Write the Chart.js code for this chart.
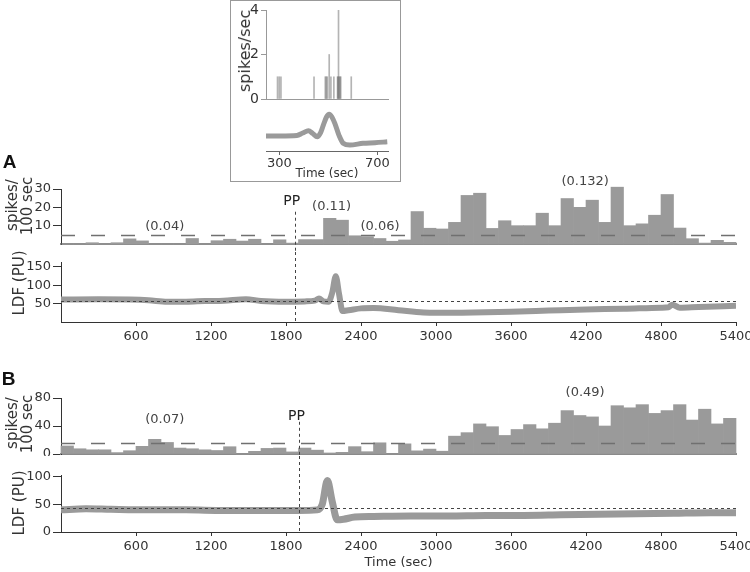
<!DOCTYPE html>
<html>
<head>
<meta charset="utf-8">
<script src="https://cdn.jsdelivr.net/npm/chart.js@4.4.1/dist/chart.umd.min.js"></script>
<style>
  body { margin: 0; background: #fff; }
  #wrap { position: relative; width: 750px; height: 572px; overflow: hidden;
          font-family: "DejaVu Sans", sans-serif; color: #333; }
  canvas { position: absolute; }
  .lbl { position: absolute; white-space: nowrap; transform: translate(-50%, -50%); line-height: 1; }
  .rot { transform: translate(-50%, -50%) rotate(-90deg); font-size: 15px; }
  .panel { font-family: "Liberation Sans", Arial, sans-serif; font-weight: bold; font-size: 19px; color: #111; }
  #insetBox { position: absolute; left: 230px; top: 0; width: 171px; height: 182px;
              box-sizing: border-box; border: 1px solid #999; }
</style>
</head>
<body>
<div id="wrap">
  <div id="insetBox"></div>
  <canvas id="insetSpikes" width="168" height="104" style="left:231px;top:1px"></canvas>
  <canvas id="insetLdf" width="168" height="77" style="left:231px;top:105px"></canvas>
  <canvas id="histA" width="750" height="82" style="left:0;top:170px"></canvas>
  <canvas id="ldfA" width="750" height="103" style="left:0;top:252px"></canvas>
  <canvas id="histB" width="750" height="73" style="left:0;top:383px"></canvas>
  <canvas id="ldfB" width="750" height="116" style="left:0;top:456px"></canvas>

  <div class="lbl rot" style="left:245px;top:51px;font-size:16px">spikes/sec</div>
  <div class="lbl panel" style="left:9.5px;top:161px">A</div>
  <div class="lbl panel" style="left:8.5px;top:378px">B</div>
  <div class="lbl rot" style="left:12px;top:205px">spikes/</div>
  <div class="lbl rot" style="left:27px;top:206px">100 sec</div>
  <div class="lbl rot" style="left:19px;top:283px">LDF (PU)</div>
  <div class="lbl rot" style="left:12px;top:423px">spikes/</div>
  <div class="lbl rot" style="left:27px;top:424px">100 sec</div>
  <div class="lbl rot" style="left:19px;top:503px">LDF (PU)</div>
</div>
<script>
// 100-sec bins (centres, sec)
const binCenters = [50,150,250,350,450,550,650,750,850,950,1050,1150,1250,1350,1450,1550,1650,1750,
  1850,1950,2050,2150,2250,2350,2450,2550,2650,2750,2850,2950,3050,3150,3250,3350,3450,3550,3650,
  3750,3850,3950,4050,4150,4250,4350,4450,4550,4650,4750,4850,4950,5050,5150,5250,5350];

// spikes / 100 sec
const spikesA = [0,0,0.7,0,0.7,2.8,1.7,0,0,0, 3,0,1.8,2.6,1.6,2.6,0,2.3,0.5,2.4,
  2.4,14,13,4.5,4,3,1.5,2.2,17.7,8.6, 8.2,11.8,26.5,27.7,8.5,12.7,10,10,16.8,10,
  24.8,20,23.9,11.8,31,10,11,15.7,27,8.7, 2.9,0.5,2,0.9];
const spikesB = [11.5,7.5,6,6,2,4.7,11,21,16.5,8.5, 7.5,6,5,10.4,0,3.8,8,8.5,3,8.5,
  5.5,1.5,2.4,10.5,3.3,16,0,14.5,4.5,7, 4,25.5,30.5,43,39,26.5,35,42,36,44,
  62,55,53,40,69,66,70.5,58,62,70.5, 48.5,64,43,51];

// LDF traces (sec, PU)
const ldfTimeA = [0,300,550,700,850,1000,1150,1300,1480,1600,1800,1950,2030,2064,2100,2140,2170,2198,2225,2252,
  2300,2400,2500,2700,2900,3000,3300,3600,3900,4200,4500,4800,4860,4890,4950,5100,5400];
const ldfA = [61,62,61,59,55,55,57,58,62,57,55,56,58,64,56,55,80,124,75,30,
  32,37,38,32,26,25,26,28,31,34,36,39,40,47,39,41,44];
const ldfTimeB = [0,200,400,700,1000,1300,1600,1900,2050,2090,2131,2170,2210,2260,2350,2500,2800,3100,
  3400,3700,4000,4300,4600,4900,5200,5400];
const ldfB = [40,42,41,40,40,39,39,39,40,50,93,55,22,23,27,28,29,29,30,30,31,32,33,34,35,35];

// inset: single-cell spikes/sec and LDF trace
const insetSpikeTime = [292,299,306,441,487,491,495,503,510,522,537,539,541,544,547,550,593];
const insetSpikeCount = [1,1,1,1,1,1,1,2,1,1,1,1,4,1,1,1,1];
const insetLdfTime = [245,303,371,395,418,436,454,468,479,492,503,514,526,543,560,587,641,690,740];
const insetLdf = [16.3,16.3,16.8,19.5,22,19,15.5,20,28,37,40,37,30,17,8.4,6.5,8.4,9,10];

const timeTicks = [600,1200,1800,2400,3000,3600,4200,4800,5400];
const insetTimeTicks = [300,700];
const ppTimeA = 1870, ppTimeB = 1900;
const thresholdA = 5, thresholdB = 16;
const baselineA = 57, baselineB = 43;

Chart.defaults.font.family = "'DejaVu Sans', sans-serif";
Chart.defaults.font.size = 13;
Chart.defaults.color = '#333';

const notesPlugin = {
  id: 'notes',
  afterDatasetsDraw(chart, args, o) {
    const { ctx, chartArea: a } = chart;
    const x = chart.scales.x, y = chart.scales.y;
    ctx.save();
    (o.hlines || []).forEach(h => {
      const py = Math.round(y.getPixelForValue(h.value)) + 0.5;
      ctx.beginPath();
      ctx.setLineDash(h.dash);
      ctx.lineWidth = h.width;
      ctx.strokeStyle = h.color;
      ctx.moveTo(a.left, py);
      ctx.lineTo(a.right, py);
      ctx.stroke();
    });
    (o.vlines || []).forEach(v => {
      const px = Math.round(x.getPixelForValue(v.value)) + 0.5;
      const top = v.from === undefined ? 0 : y.getPixelForValue(v.from);
      const bottom = v.toEdge ? chart.height : a.bottom;
      ctx.beginPath();
      ctx.setLineDash([3, 3]);
      ctx.lineWidth = 1;
      ctx.strokeStyle = '#444';
      ctx.moveTo(px, top);
      ctx.lineTo(px, bottom);
      ctx.stroke();
    });
    ctx.setLineDash([]);
    ctx.textAlign = 'center';
    ctx.textBaseline = 'middle';
    (o.texts || []).forEach(t => {
      ctx.font = (t.size || 13) + 'px "DejaVu Sans"';
      ctx.fillStyle = t.color || '#444';
      ctx.fillText(t.text, x.getPixelForValue(t.x) + (t.dx || 0), y.getPixelForValue(t.y));
    });
    ctx.restore();
  }
};
Chart.register(notesPlugin);

function fixedTicks(list) {
  return s => { s.ticks = list.map(v => ({ value: v })); };
}
function xFit(h) {
  return s => { s.height = h; s.paddingLeft = 0; s.paddingRight = 0; };
}
function yFit(w) {
  return s => { s.width = w; s.paddingTop = 0; s.paddingBottom = 0; };
}
const plain = v => String(v);
const base = {
  responsive: false,
  animation: false,
  devicePixelRatio: 1,
  plugins: { legend: { display: false }, tooltip: { enabled: false } }
};

function histChart(id, values, yMax, yTicks, padTop, xH, notes) {
  return new Chart(document.getElementById(id), {
    type: 'bar',
    data: {
      datasets: [{
        data: binCenters.map((t, i) => ({ x: t, y: values[i] })),
        backgroundColor: '#9a9a9a',
        borderWidth: 0,
        barPercentage: 1,
        categoryPercentage: 1,
        clip: false
      }]
    },
    options: Object.assign({}, base, {
      layout: { padding: { top: padTop, right: 14, left: 0, bottom: 0 } },
      plugins: Object.assign({}, base.plugins, { notes: notes }),
      scales: {
        x: {
          type: 'linear', min: 0, max: 5400, offset: false,
          grid: { display: false },
          border: { color: '#8a8a8a', width: 2 },
          ticks: { display: false },
          afterFit: xFit(xH)
        },
        y: {
          min: 0, max: yMax,
          afterBuildTicks: fixedTicks(yTicks),
          grid: { drawOnChartArea: false, tickLength: 8, color: '#333' },
          border: { color: '#333' },
          ticks: { padding: 2, callback: plain },
          afterFit: yFit(61)
        }
      }
    })
  });
}

function ldfChart(id, times, values, yMax, yTicks, padTop, xH, width, notes, title) {
  return new Chart(document.getElementById(id), {
    type: 'line',
    data: {
      datasets: [{
        data: times.map((t, i) => ({ x: t, y: values[i] })),
        borderColor: '#9a9a9a',
        borderWidth: width,
        pointRadius: 0,
        cubicInterpolationMode: 'monotone'
      }]
    },
    options: Object.assign({}, base, {
      layout: { padding: { top: padTop, right: 14, left: 0, bottom: 0 } },
      plugins: Object.assign({}, base.plugins, { notes: notes }),
      scales: {
        x: {
          type: 'linear', min: 0, max: 5400,
          afterBuildTicks: fixedTicks(timeTicks),
          grid: { drawOnChartArea: false, tickLength: 4, color: '#333' },
          border: { color: '#333' },
          ticks: { padding: 3, maxRotation: 0, callback: plain },
          title: title ? { display: true, text: 'Time (sec)', font: { size: 13 }, padding: { top: 0, bottom: 2 } } : { display: false },
          afterFit: xFit(xH)
        },
        y: {
          min: 0, max: yMax,
          afterBuildTicks: fixedTicks(yTicks),
          grid: { drawOnChartArea: false, tickLength: 8, color: '#333' },
          border: { color: '#333' },
          ticks: { padding: 2, callback: plain },
          afterFit: yFit(61)
        }
      }
    })
  });
}

// inset: spikes/sec
new Chart(document.getElementById('insetSpikes'), {
  type: 'bar',
  data: {
    datasets: [{
      data: insetSpikeTime.map((t, i) => ({ x: t, y: insetSpikeCount[i] })),
      backgroundColor: 'rgba(105,105,105,0.5)',
      barThickness: 1,
      borderWidth: 0
    }]
  },
  options: Object.assign({}, base, {
    layout: { padding: { top: 9, right: 11, left: 0, bottom: 0 } },
    scales: {
      x: {
        type: 'linear', min: 245, max: 743, offset: false,
        grid: { display: false },
        border: { color: '#999' },
        ticks: { display: false },
        afterFit: xFit(6)
      },
      y: {
        min: 0, max: 4,
        afterBuildTicks: fixedTicks([0, 2, 4]),
        grid: { drawOnChartArea: false, tickLength: 5, color: '#999' },
        border: { color: '#999' },
        ticks: { padding: 2, font: { size: 14 }, callback: plain },
        afterFit: yFit(35)
      }
    }
  })
});

// inset: LDF trace
new Chart(document.getElementById('insetLdf'), {
  type: 'line',
  data: {
    datasets: [{
      data: insetLdfTime.map((t, i) => ({ x: t, y: insetLdf[i] })),
      borderColor: '#9a9a9a',
      borderWidth: 5,
      pointRadius: 0,
      cubicInterpolationMode: 'monotone'
    }]
  },
  options: Object.assign({}, base, {
    layout: { padding: { top: 0, right: 11, left: 35, bottom: 0 } },
    scales: {
      x: {
        type: 'linear', min: 245, max: 743,
        afterBuildTicks: fixedTicks(insetTimeTicks),
        grid: { drawOnChartArea: false, tickLength: 4, color: '#666' },
        border: { color: '#666' },
        ticks: { padding: 1, maxRotation: 0, callback: plain },
        title: { display: true, text: 'Time (sec)', font: { size: 12 }, padding: { top: 0, bottom: 1 } },
        afterFit: xFit(31)
      },
      y: { display: false, min: 0, max: 50 }
    }
  })
});

histChart('histA', spikesA, 30, [10, 20, 30], 19, 8, {
  hlines: [{ value: thresholdA, dash: [14, 16], width: 1.5, color: '#707070' }],
  vlines: [{ value: ppTimeA, from: 17.6, toEdge: true }],
  texts: [
    { text: '(0.04)', x: 830, y: 9.6 },
    { text: '(0.11)', x: 2165, y: 20.5 },
    { text: '(0.06)', x: 2552, y: 9.6 },
    { text: '(0.132)', x: 4193, y: 34 },
    { text: 'PP', x: ppTimeA, y: 23.3, dx: -3, size: 14, color: '#222' }
  ]
});

ldfChart('ldfA', ldfTimeA, ldfA, 163, [50, 100, 150], 10, 33, 6, {
  hlines: [{ value: baselineA, dash: [3, 3], width: 1, color: '#444' }],
  vlines: [{ value: ppTimeA }]
}, false);

histChart('histB', spikesB, 80, [0, 40, 80], 15, 2, {
  hlines: [{ value: thresholdB, dash: [14, 16], width: 1.5, color: '#707070' }],
  vlines: [{ value: ppTimeB, from: 46, toEdge: true }],
  texts: [
    { text: '(0.07)', x: 830, y: 49 },
    { text: '(0.49)', x: 4193, y: 87 },
    { text: 'PP', x: ppTimeB, y: 53.3, dx: -2, size: 14, color: '#222' }
  ]
});

ldfChart('ldfB', ldfTimeB, ldfB, 103, [0, 50, 100], 19, 40, 7, {
  hlines: [{ value: baselineB, dash: [3, 3], width: 1, color: '#444' }],
  vlines: [{ value: ppTimeB }]
}, true);
</script>
</body>
</html>
